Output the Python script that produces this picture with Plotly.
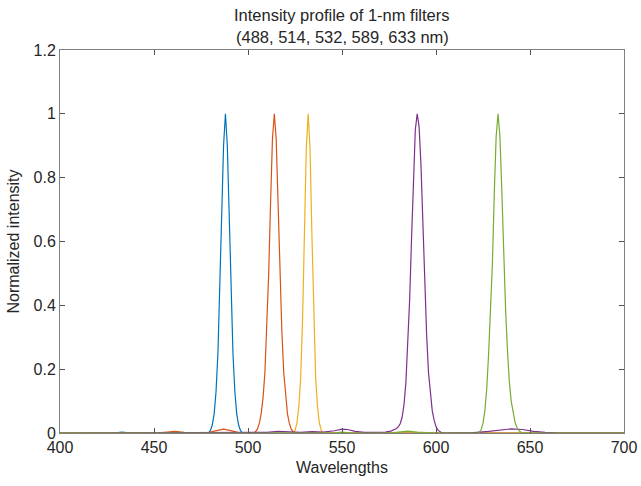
import plotly.graph_objects as go

# filter profiles (wavelength in nm, normalized intensity)
blue_nm = [400, 428, 433, 438, 445, 479, 480, 481, 482, 483, 484, 485, 486, 487, 488, 489, 490,
           491, 492, 493, 494, 495, 496, 497, 500, 700]
blue_int = [0, 0, 0.003, 0, 0, 0, 0.008, 0.025, 0.06, 0.13, 0.25, 0.43, 0.68, 0.9, 1.0, 0.9, 0.68,
            0.43, 0.25, 0.13, 0.06, 0.025, 0.008, 0, 0, 0]

orange_nm = [400, 450, 457, 461, 466, 478, 482, 487, 492, 496, 503, 504, 505, 506, 507, 508, 509,
             510, 511, 512, 513, 514, 515, 516, 517, 518, 519, 520, 521, 522, 523, 524, 525, 700]
orange_int = [0, 0, 0.003, 0.005, 0.002, 0, 0.006, 0.012, 0.006, 0, 0, 0.004, 0.012, 0.03, 0.06,
              0.11, 0.19, 0.32, 0.5, 0.72, 0.92, 1.0, 0.92, 0.72, 0.5, 0.32, 0.19, 0.11, 0.06,
              0.03, 0.012, 0.004, 0, 0]

yellow_nm = [400, 520, 524, 525, 526, 527, 528, 529, 530, 531, 532, 533, 534, 535, 536, 537, 538,
             539, 540, 700]
yellow_int = [0, 0, 0, 0.008, 0.03, 0.08, 0.17, 0.35, 0.62, 0.89, 1.0, 0.89, 0.62, 0.35, 0.17,
              0.08, 0.03, 0.008, 0, 0]

purple_nm = [400, 500, 510, 516, 522, 528, 534, 540, 546, 550, 553, 557, 562, 568, 573, 576, 578,
             579, 580, 581, 582, 583, 584, 585, 586, 587, 588, 589, 590, 591, 592, 593, 594, 595,
             596, 597, 598, 599, 600, 601, 602, 603, 605, 612, 620, 628, 634, 640, 646, 652, 658,
             665, 700]
purple_int = [0, 0, 0.002, 0.005, 0.004, 0.002, 0.004, 0.003, 0.007, 0.012, 0.011, 0.005, 0.002,
              0.002, 0.003, 0.006, 0.01, 0.014, 0.02, 0.03, 0.05, 0.09, 0.16, 0.27, 0.42, 0.61,
              0.80, 0.95, 1.0, 0.96, 0.84, 0.66, 0.47, 0.31, 0.19, 0.12, 0.07, 0.04, 0.02, 0.009,
              0.004, 0.001, 0, 0, 0.001, 0.005, 0.009, 0.013, 0.011, 0.005, 0.002, 0, 0]

green_nm = [400, 545, 550, 555, 575, 580, 585, 590, 600, 622, 623, 624, 625, 626, 627, 628, 629,
            630, 631, 632, 633, 634, 635, 636, 637, 638, 639, 640, 641, 642, 643, 644, 645, 646,
            648, 700]
green_int = [0, 0, 0.003, 0, 0, 0.004, 0.006, 0.003, 0, 0, 0.003, 0.01, 0.03, 0.07, 0.14, 0.25,
             0.38, 0.53, 0.75, 0.93, 1.0, 0.93, 0.76, 0.56, 0.39, 0.26, 0.16, 0.10, 0.06, 0.035,
             0.018, 0.008, 0.003, 0.001, 0, 0]

x_ticks = [400, 450, 500, 550, 600, 650, 700]
y_ticks = [0, 0.2, 0.4, 0.6, 0.8, 1, 1.2]

series = [
    (blue_nm, blue_int, '#0072BD'),
    (orange_nm, orange_int, '#D95319'),
    (yellow_nm, yellow_int, '#EDB120'),
    (purple_nm, purple_int, '#7E2F8E'),
    (green_nm, green_int, '#77AC30'),
]

fig = go.Figure()
for nm, inten, col in series:
    fig.add_trace(go.Scatter(x=nm, y=inten, mode='lines',
                             line=dict(color=col, width=1.2), showlegend=False))

font = dict(family='Liberation Sans, Arial, sans-serif', size=16, color='#262626')
axis_style = dict(showgrid=False, zeroline=False, showline=True, linecolor='#808080',
                  linewidth=1, mirror='ticks', ticks='inside', ticklen=5,
                  tickcolor='#555555', tickfont=font, automargin=False)

fig.update_layout(
    width=641, height=486,
    margin=dict(l=60, r=17, t=50, b=53),
    paper_bgcolor='white', plot_bgcolor='white',
    font=font,
    xaxis=dict(range=[400, 700], tickvals=x_ticks, **axis_style),
    yaxis=dict(range=[0, 1.2], tickvals=y_ticks, ticktext=[str(v) for v in y_ticks], **axis_style),
)

fig.add_annotation(text='Intensity profile of 1-nm filters', xref='paper', yref='paper',
                   x=0.5, y=1, yshift=35, yanchor='middle', showarrow=False,
                   font=dict(size=16.5))
fig.add_annotation(text='(488, 514, 532, 589, 633 nm)', xref='paper', yref='paper',
                   x=0.5, y=1, yshift=13, yanchor='middle', showarrow=False,
                   font=dict(size=16.5))
fig.add_annotation(text='Wavelengths', xref='paper', yref='paper', x=0.5, y=0, yshift=-34,
                   yanchor='middle', showarrow=False, font=dict(size=16))
fig.add_annotation(text='Normalized intensity', xref='paper', yref='paper', x=0, y=0.5,
                   xshift=-47, xanchor='center', textangle=-90, showarrow=False,
                   font=dict(size=16))

# drop the page's default 8px body margin so the figure fills the window exactly
fig.write_html("out.html", config={'displayModeBar': False},
               post_script="document.body.style.margin='0';")
